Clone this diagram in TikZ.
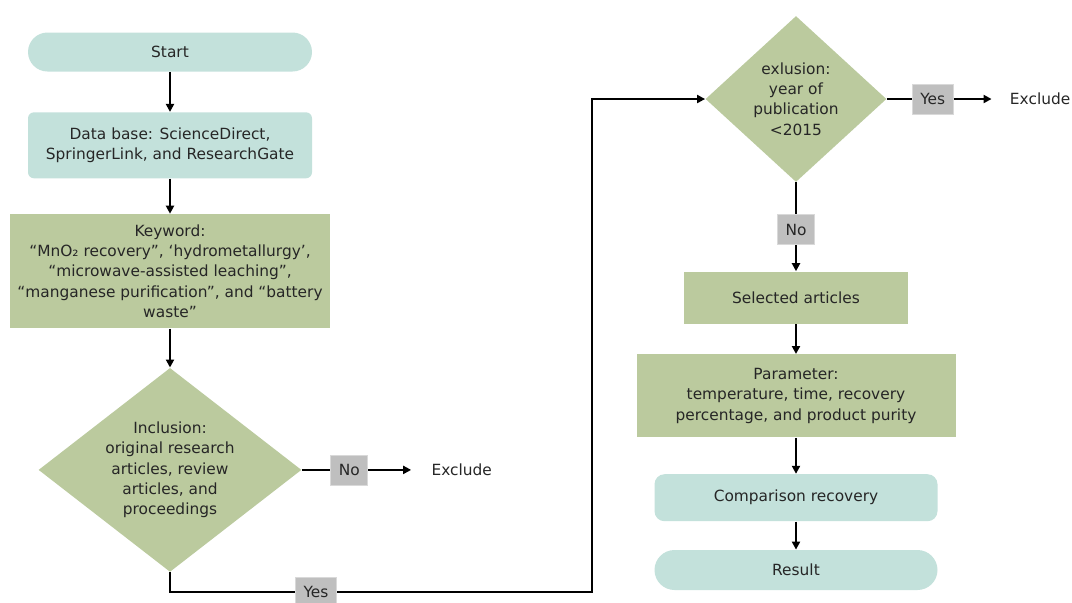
\documentclass[tikz,border=0pt]{standalone}
\usepackage{fontspec}
\setmainfont{DejaVu Sans}
\usetikzlibrary{positioning,shapes.geometric,arrows.meta}
\definecolor{Teal}{HTML}{C3E1DB}
\definecolor{Sage}{HTML}{BBCA9E}
\definecolor{LabelGray}{HTML}{BFBFBF}
\definecolor{Ink}{HTML}{262626}

\begin{document}
\begin{tikzpicture}[x=0.5pt, y=-0.5pt, >={Triangle[length=4pt,width=4pt]}, font=\fontsize{7.7}{10.2}\selectfont, text=Ink]
  \tikzstyle{term} = [rectangle, fill=Teal, minimum width=142pt, minimum height=19.5pt, rounded corners=9.75pt, align=center]
  \tikzstyle{process} = [rectangle, fill=Teal, minimum width=142pt, minimum height=33pt, rounded corners=3pt, align=center]
  \tikzstyle{criteria} = [rectangle, fill=Sage, minimum width=160pt, minimum height=57pt, inner sep=1pt, align=center]
  \tikzstyle{decision} = [diamond, fill=Sage, inner sep=0pt, align=center]
  \tikzstyle{answer} = [rectangle, fill=LabelGray, draw=LabelGray!60, line width=0.4pt, inner xsep=4pt, minimum height=15pt]
  \tikzstyle{outcome} = [inner sep=0pt]
  \tikzstyle{flow} = [line width=1pt, black]

  \useasboundingbox (0,0) rectangle (1072,602);

  % left column
  \node [term] (start) at (170,52) {Start};
  \node [process, below=20pt of start] (db) {Data base: ScienceDirect,\\SpringerLink, and ResearchGate};
  \node [criteria, below=17.5pt of db] (kw) {Keyword:\\“MnO₂ recovery”, ‘hydrometallurgy’,\\“microwave-assisted leaching”,\\“manganese purification”, and “battery\\waste”};
  \node [decision, below=19.5pt of kw, minimum width=131.5pt, minimum height=102pt, aspect=1.29] (incl) {Inclusion:\\original research\\articles, review\\articles, and\\proceedings};
  \node [answer, right=14.25pt of incl] (no1) {No};
  \node [outcome, right=31.5pt of no1] (ex1) {Exclude};

  % right column
  \node [decision, minimum width=90.5pt, minimum height=83pt, aspect=1.09] (excl) at (796,99) {exlusion:\\year of\\publication\\<2015};
  \node [answer, right=12.5pt of excl] (yes2) {Yes};
  \node [outcome, right=28pt of yes2] (ex2) {Exclude};
  \node [answer, below=16pt of excl] (no2) {No};
  \node [criteria, below=13pt of no2, minimum width=112pt, minimum height=26pt] (sel) {Selected articles};
  \node [criteria, below=15pt of sel, minimum width=159.5pt, minimum height=41.5pt] (param) {Parameter:\\temperature, time, recovery\\percentage, and product purity};
  \node [process, below=18pt of param, minimum width=141.5pt, minimum height=23.5pt, rounded corners=5pt] (comp) {Comparison recovery};
  \node [term, below=14pt of comp, minimum width=141.5pt, minimum height=20pt, rounded corners=10pt] (result) {Result};

  % connectors
  \draw [flow, ->] (start) -- (db);
  \draw [flow, ->] (db) -- (kw);
  \draw [flow, ->] (kw) -- (incl);
  \draw [flow] (incl) -- (no1);
  \draw [flow, ->, shorten >=10pt] (no1) -- (ex1);
  \coordinate (turn) at (592,592);
  \draw [flow, ->] (incl.south) |- (turn) |- (excl.west);
  \node [answer] (yes1) at (316,592) {Yes};
  \draw [flow] (excl) -- (yes2);
  \draw [flow, ->, shorten >=9pt] (yes2) -- (ex2);
  \draw [flow] (excl) -- (no2);
  \draw [flow, ->] (no2) -- (sel);
  \draw [flow, ->] (sel) -- (param);
  \draw [flow, ->] (param) -- (comp);
  \draw [flow, ->] (comp) -- (result);
\end{tikzpicture}
\end{document}
